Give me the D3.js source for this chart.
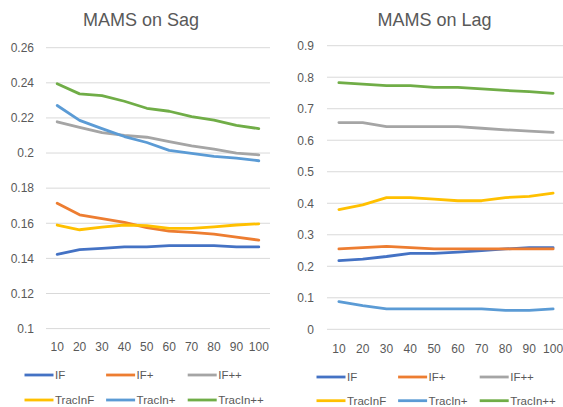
<!DOCTYPE html>
<html><head><meta charset="utf-8">
<script src="https://cdn.jsdelivr.net/npm/d3@7"></script>
<style>html,body{margin:0;padding:0;background:#fff;}svg{display:block;}</style>
</head><body>
<svg id="c" width="563" height="407"></svg>
<script>
const categories = ["10","20","30","40","50","60","70","80","90","100"];
const seriesNames = ["IF","IF+","IF++","TracInF","TracIn+","TracIn++"];
const seriesColors = ["#4472C4","#ED7D31","#A5A5A5","#FFC000","#5B9BD5","#70AD47"];

// MAMS on Sag
const sagIF       = [0.1423,0.1450,0.1457,0.1465,0.1465,0.1473,0.1473,0.1473,0.1465,0.1465];
const sagIFp      = [0.1714,0.1648,0.1627,0.1605,0.1575,0.1555,0.1548,0.1538,0.1521,0.1504];
const sagIFpp     = [0.2178,0.2146,0.2116,0.2101,0.2090,0.2065,0.2041,0.2022,0.1999,0.1990];
const sagTracInF  = [0.1590,0.1563,0.1578,0.1590,0.1587,0.1571,0.1571,0.1580,0.1590,0.1597];
const sagTracInp  = [0.2271,0.2186,0.2139,0.2094,0.2060,0.2015,0.1998,0.1981,0.1971,0.1956];
const sagTracInpp = [0.2395,0.2337,0.2327,0.2295,0.2255,0.2238,0.2207,0.2188,0.2158,0.2139];
const sagTicks = [0.1,0.12,0.14,0.16,0.18,0.2,0.22,0.24,0.26];
const sagTickLabels = ["0.1","0.12","0.14","0.16","0.18","0.2","0.22","0.24","0.26"];

// MAMS on Lag
const lagIF       = [0.218,0.223,0.231,0.241,0.241,0.245,0.250,0.255,0.259,0.259];
const lagIFp      = [0.255,0.259,0.263,0.259,0.255,0.255,0.255,0.255,0.255,0.255];
const lagIFpp     = [0.656,0.656,0.643,0.643,0.643,0.643,0.638,0.633,0.629,0.625];
const lagTracInF  = [0.380,0.395,0.418,0.418,0.413,0.408,0.408,0.418,0.422,0.432];
const lagTracInp  = [0.088,0.075,0.065,0.065,0.065,0.065,0.065,0.060,0.060,0.065];
const lagTracInpp = [0.783,0.778,0.773,0.773,0.768,0.768,0.763,0.758,0.754,0.749];
const lagTicks = [0,0.1,0.2,0.3,0.4,0.5,0.6,0.7,0.8,0.9];
const lagTickLabels = ["0","0.1","0.2","0.3","0.4","0.5","0.6","0.7","0.8","0.9"];

const svg = d3.select("#c");
const FONT = "'Liberation Sans', Arial, sans-serif";
const TXT = "#595959";

function chart(cfg){
  const g = svg.append("g");
  const x = d3.scalePoint().domain(categories).range([cfg.x0, cfg.x1]).padding(0.5);
  const y = d3.scaleLinear().domain(cfg.domain).range([cfg.y0, cfg.y1]);
  // grid
  g.selectAll("line.grid").data(cfg.ticks).enter().append("line")
    .attr("x1", cfg.x0).attr("x2", cfg.x1)
    .attr("y1", d=>y(d)).attr("y2", d=>y(d))
    .attr("stroke", "#D9D9D9").attr("stroke-width", 1);
  // y labels
  g.selectAll("text.yl").data(cfg.ticks).enter().append("text")
    .attr("x", cfg.labelX).attr("y", d=>y(d)+4.3)
    .attr("text-anchor","end").attr("font-family",FONT).attr("font-size",12).attr("fill",TXT)
    .text((d,i)=>cfg.tickLabels[i]);
  // x labels
  g.selectAll("text.xl").data(categories).enter().append("text")
    .attr("x", d=>x(d)).attr("y", cfg.xLabelY)
    .attr("text-anchor","middle").attr("font-family",FONT).attr("font-size",12).attr("fill",TXT)
    .text(d=>d);
  // lines
  const line = d3.line().x((d,i)=>x(categories[i])).y(d=>y(d));
  cfg.series.forEach((s,i)=>{
    g.append("path").attr("d", line(s)).attr("fill","none")
      .attr("stroke", seriesColors[i]).attr("stroke-width", 2.8)
      .attr("stroke-linejoin","round").attr("stroke-linecap","round");
  });
  // title
  g.append("text").attr("x", cfg.titleX).attr("y", 25.5).attr("text-anchor","middle")
    .attr("font-family",FONT).attr("font-size",18).attr("fill",TXT).text(cfg.title);
  // legend
  seriesNames.forEach((n,i)=>{
    const col = i%3, row = Math.floor(i/3);
    const lx = cfg.legX + col*81.6, ly = cfg.legY[row];
    g.append("line").attr("x1", lx).attr("x2", lx+29).attr("y1", ly).attr("y2", ly)
      .attr("stroke", seriesColors[i]).attr("stroke-width", 2.8);
    g.append("text").attr("x", lx+30.5).attr("y", ly+4.2)
      .attr("font-family",FONT).attr("font-size",11.5).attr("fill",TXT).text(n);
  });
}

chart({
  title:"MAMS on Sag", titleX:141,
  x0:46, x1:270, y0:328.6, y1:47.7, domain:[0.1,0.26],
  ticks:sagTicks, tickLabels:sagTickLabels, labelX:34, xLabelY:351,
  series:[sagIF,sagIFp,sagIFpp,sagTracInF,sagTracInp,sagTracInpp],
  legX:24.5, legY:[375,400]
});
chart({
  title:"MAMS on Lag", titleX:434.5,
  x0:327, x1:565, y0:329.3, y1:45.7, domain:[0,0.9],
  ticks:lagTicks, tickLabels:lagTickLabels, labelX:314, xLabelY:353,
  series:[lagIF,lagIFp,lagIFpp,lagTracInF,lagTracInp,lagTracInpp],
  legX:316.5, legY:[377,400.7]
});
</script>
</body></html>
